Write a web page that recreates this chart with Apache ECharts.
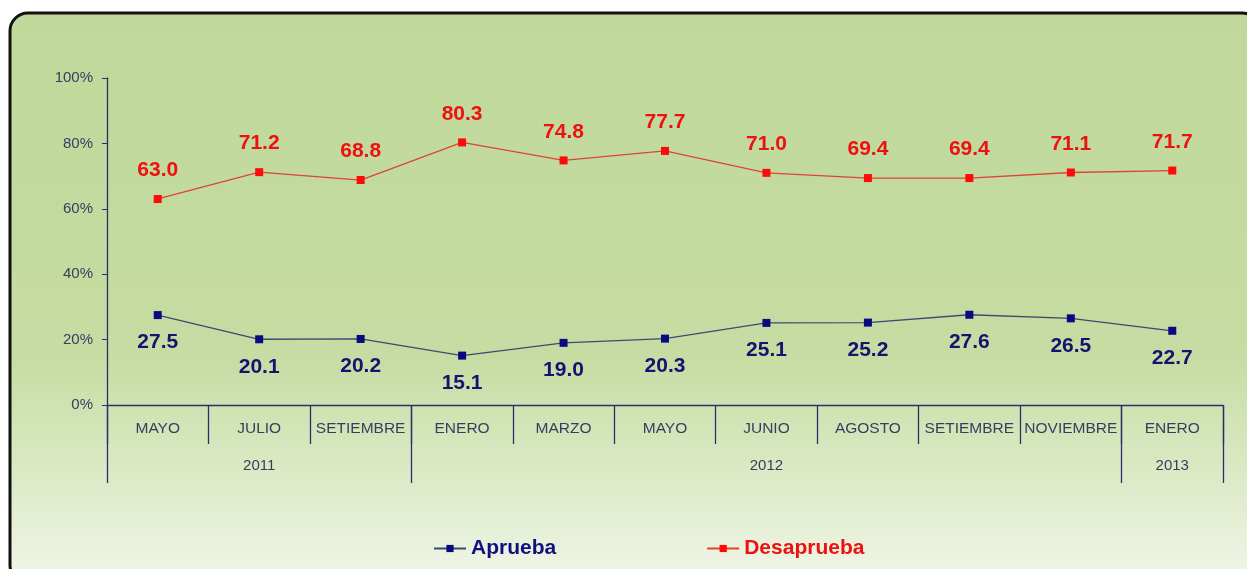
<!DOCTYPE html>
<html><head><meta charset="utf-8">
<script src="https://cdn.jsdelivr.net/npm/echarts@6/dist/echarts.min.js"></script>
<style>html,body{margin:0;padding:0;background:#fff}#c{width:1247px;height:569px}</style>
</head><body><div id="c"></div>
<script>
const months = ['MAYO','JULIO','SETIEMBRE','ENERO','MARZO','MAYO','JUNIO','AGOSTO','SETIEMBRE','NOVIEMBRE','ENERO'];
const years = ['2011','2012','2013'];
const yearSpans = [3,7,1];
const aprueba = [27.5,20.1,20.2,15.1,19.0,20.3,25.1,25.2,27.6,26.5,22.7];
const desaprueba = [63.0,71.2,68.8,80.3,74.8,77.7,71.0,69.4,69.4,71.1,71.7];
const yTicks = [0,20,40,60,80,100];

const bounds = [0]; const centers = [];
yearSpans.forEach(s => { const a = bounds[bounds.length-1]; centers.push(a + s/2); bounds.push(a + s); });

const axisCol = '#27306b', txtCol = '#363e60';
const chart = echarts.init(document.getElementById('c'));
chart.setOption({
  animation:false,
  graphic:[{type:'rect', z:-10, silent:true, shape:{x:10,y:13,width:1250,height:570,r:18},
    style:{stroke:'#111',lineWidth:3,fill:new echarts.graphic.LinearGradient(0,0,0,1,[
      {offset:0,color:'#c0d89a'},{offset:0.6,color:'#c6dca2'},{offset:0.8,color:'#dbe9c4'},{offset:1,color:'#f1f6e9'}])}}],
  grid:{left:107,right:24,top:78,bottom:164,containLabel:false},
  legend:{left:428,top:533,itemWidth:32,itemHeight:9,itemGap:150,
    textStyle:{fontFamily:'Liberation Sans, Arial',fontSize:21,fontWeight:'bold'},
    data:[{name:'Aprueba',textStyle:{color:'#101080'}},{name:'Desaprueba',textStyle:{color:'#ee1111'}}]},
  xAxis:[
    {type:'category',data:months,boundaryGap:true,position:'bottom',
     axisLine:{show:true,lineStyle:{color:axisCol,width:1.3}},
     axisTick:{show:true,interval:0,length:39,lineStyle:{color:axisCol,width:1.3}},
     axisLabel:{interval:0,margin:16,color:txtCol,fontFamily:'Liberation Sans, Arial',fontSize:15.5}},
    {type:'value',min:0,max:months.length,position:'bottom',splitLine:{show:false},
     axisLine:{show:false},
     axisTick:{show:true,customValues:bounds,length:78,lineStyle:{color:axisCol,width:1.3}},
     axisLabel:{customValues:centers,margin:53,color:txtCol,fontFamily:'Liberation Sans, Arial',fontSize:15,
       formatter:v=>{const i=centers.indexOf(v);return i>=0?years[i]:'';}}}
  ],
  yAxis:{type:'value',min:yTicks[0],max:yTicks[yTicks.length-1],interval:20,splitLine:{show:false},
    axisLine:{show:true,lineStyle:{color:axisCol,width:1.3}},
    axisTick:{show:true,length:5,lineStyle:{color:axisCol}},
    axisLabel:{margin:14,color:txtCol,fontFamily:'Liberation Sans, Arial',fontSize:15,formatter:'{value}%'}},
  series:[
    {name:'Aprueba',type:'line',data:aprueba,symbol:'rect',symbolSize:8,
     lineStyle:{color:'#3b4a70',width:1.3},itemStyle:{color:'#0a0a80'},
     label:{show:true,position:'bottom',distance:13,formatter:p=>p.value.toFixed(1),
       color:'#141470',fontFamily:'Liberation Sans, Arial',fontSize:21,fontWeight:'bold'}},
    {name:'Desaprueba',type:'line',data:desaprueba,symbol:'rect',symbolSize:8,
     lineStyle:{color:'#dd4433',width:1.3},itemStyle:{color:'#ff0a0a'},
     label:{show:true,position:'top',distance:14,formatter:p=>p.value.toFixed(1),
       color:'#ee1111',fontFamily:'Liberation Sans, Arial',fontSize:21,fontWeight:'bold'}}
  ]
});
</script></body></html>
